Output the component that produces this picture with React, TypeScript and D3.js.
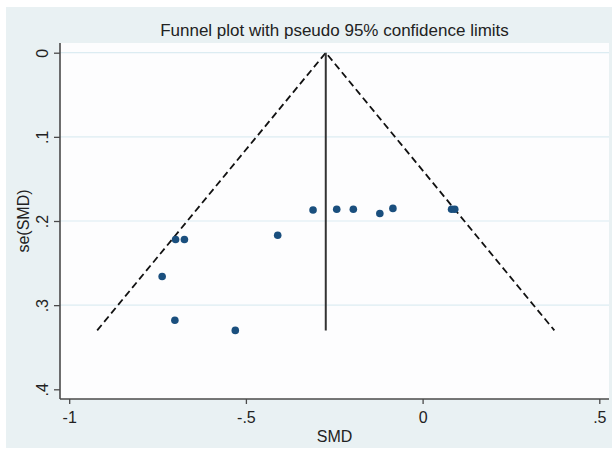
import * as d3 from 'd3';
import React, { useRef, useEffect } from 'react';

// study estimates
const smd = [-0.31, -0.243, -0.196, -0.121, -0.084, 0.082, 0.091, -0.41, -0.699, -0.674, -0.737, -0.701, -0.53];
const seSmd = [0.187, 0.186, 0.186, 0.191, 0.185, 0.186, 0.186, 0.217, 0.222, 0.222, 0.266, 0.318, 0.33];

const pooled = -0.274;
const seMax = 0.33;

const xTicks = [-1, -0.5, 0, 0.5];
const xTickLabels = ['-1', '-.5', '0', '.5'];
const yTicks = [0, 0.1, 0.2, 0.3, 0.4];
const yTickLabels = ['0', '.1', '.2', '.3', '.4'];

const width = 612;
const height = 450;
const plot = { left: 60, top: 43, right: 609, bottom: 399 };

function FunnelPlot() {
  const ref = useRef<SVGSVGElement>(null);

  useEffect(() => {
    const svg = d3.select(ref.current);
    svg.selectAll('*').remove();

    const x = d3.scaleLinear().domain([-1, 0.5]).range([69.2, 599.3]);
    const y = d3.scaleLinear().domain([0, 0.4]).range([52.7, 389.3]);
    const font = 'Liberation Sans, Arial, sans-serif';

    // outer background
    svg.append('rect').attr('x', 0).attr('y', 0).attr('width', width).attr('height', height).attr('fill', '#ffffff');
    svg.append('rect').attr('x', 6).attr('y', 7).attr('width', width - 6).attr('height', 441).attr('fill', '#e9f1f3');

    // plot region
    svg.append('rect')
      .attr('x', plot.left)
      .attr('y', plot.top)
      .attr('width', plot.right - plot.left)
      .attr('height', plot.bottom - plot.top)
      .attr('fill', '#fdfdfe');

    // gridlines
    svg.append('g')
      .selectAll('line')
      .data(yTicks.slice(0, 4))
      .enter()
      .append('line')
      .attr('x1', plot.left)
      .attr('x2', plot.right)
      .attr('y1', d => y(d))
      .attr('y2', d => y(d))
      .attr('stroke', '#dcecf2')
      .attr('stroke-width', 1.2);

    // axes
    const xAxis = svg.append('g')
      .attr('transform', `translate(0,${plot.bottom})`)
      .call(d3.axisBottom(x).tickValues(xTicks).tickSize(5).tickSizeOuter(0).tickFormat((d, i) => xTickLabels[i]));
    xAxis.select('.domain').attr('d', `M${plot.left},0H${plot.right}`);

    const yAxis = svg.append('g')
      .attr('transform', `translate(${plot.left},0)`)
      .call(d3.axisLeft(y).tickValues(yTicks).tickSize(6).tickSizeOuter(0).tickFormat((d, i) => yTickLabels[i]));
    yAxis.select('.domain').attr('d', `M0,${plot.top}V${plot.bottom}`);

    [xAxis, yAxis].forEach(a => {
      a.select('.domain').attr('stroke', '#4a4a4a').attr('stroke-width', 1.6);
      a.selectAll('.tick line').attr('stroke', '#4a4a4a').attr('stroke-width', 1.3);
      a.selectAll('.tick text')
        .attr('font-family', font)
        .attr('font-size', 16)
        .attr('fill', '#222');
    });
    xAxis.selectAll('.tick text').attr('y', 13);
    yAxis.selectAll('.tick text')
      .attr('x', null)
      .attr('text-anchor', 'middle')
      .attr('transform', 'translate(-18,0) rotate(-90)')
      .attr('y', 0)
      .attr('dy', '0.35em');

    // funnel limits
    const dashed = [
      [[pooled - 1.96 * seMax, seMax], [pooled, 0], [pooled + 1.96 * seMax, seMax]]
    ];
    svg.append('g')
      .selectAll('path')
      .data(dashed)
      .enter()
      .append('path')
      .attr('d', d => d3.line<number[]>().x(p => x(p[0])).y(p => y(p[1]))(d))
      .attr('fill', 'none')
      .attr('stroke', '#111')
      .attr('stroke-width', 1.8)
      .attr('stroke-dasharray', '7,4');

    // pooled estimate
    svg.append('line')
      .attr('x1', x(pooled))
      .attr('x2', x(pooled))
      .attr('y1', y(0))
      .attr('y2', y(seMax))
      .attr('stroke', '#333')
      .attr('stroke-width', 2);

    // studies
    svg.append('g')
      .selectAll('circle')
      .data(smd.map((v, i) => ({ v, se: seSmd[i] })))
      .enter()
      .append('circle')
      .attr('cx', d => x(d.v))
      .attr('cy', d => y(d.se))
      .attr('r', 3.8)
      .attr('fill', '#1a4f7e');

    // titles
    svg.append('text')
      .attr('x', (plot.left + plot.right) / 2)
      .attr('y', 36)
      .attr('text-anchor', 'middle')
      .attr('font-family', font)
      .attr('font-size', 17)
      .attr('fill', '#222')
      .text('Funnel plot with pseudo 95% confidence limits');

    svg.append('text')
      .attr('x', (plot.left + plot.right) / 2)
      .attr('y', 442)
      .attr('text-anchor', 'middle')
      .attr('font-family', font)
      .attr('font-size', 16)
      .attr('fill', '#222')
      .text('SMD');

    svg.append('text')
      .attr('transform', `translate(23,${(plot.top + plot.bottom) / 2}) rotate(-90)`)
      .attr('text-anchor', 'middle')
      .attr('dy', '0.35em')
      .attr('font-family', font)
      .attr('font-size', 16)
      .attr('fill', '#222')
      .text('se(SMD)');
  }, []);

  return <svg ref={ref} width={width} height={height} style={{ display: 'block' }} />;
}

export default function App() {
  return (
    <div style={{ position: 'absolute', left: 0, top: 0 }}>
      <FunnelPlot />
    </div>
  );
}
